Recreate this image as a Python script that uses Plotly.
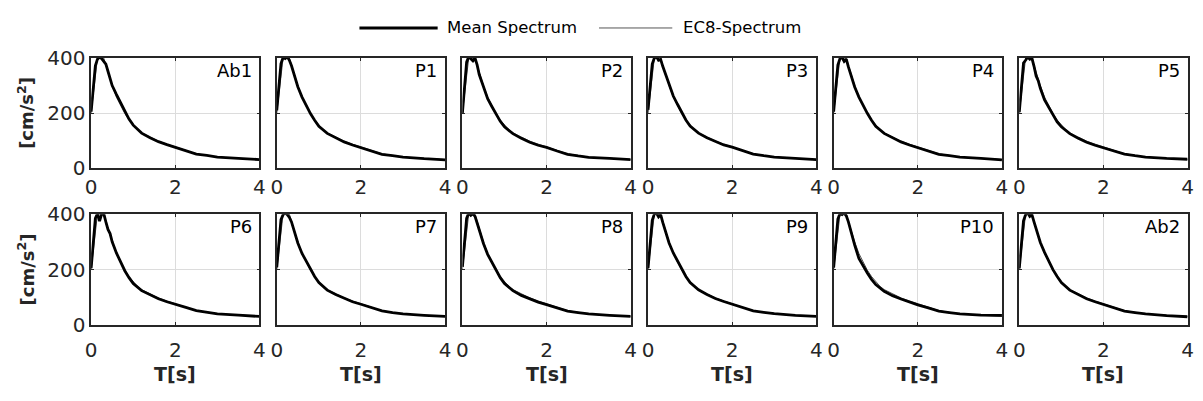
import plotly.graph_objects as go

W, H = 1203, 401

# ---------------- data ----------------
labels = ["Ab1", "P1", "P2", "P3", "P4", "P5",
          "P6", "P7", "P8", "P9", "P10", "Ab2"]

T_mean = [0.0, 0.05, 0.1, 0.15, 0.2, 0.25, 0.3, 0.35, 0.4, 0.45, 0.5, 0.6, 0.7,
          0.8, 0.9, 1.0, 1.2, 1.4, 1.6, 1.8, 2.0, 2.25, 2.5, 2.75, 3.0, 3.5, 4.0]

mean_Ab1 = [205, 300, 372, 396, 404, 398, 386, 378, 352, 328, 300, 268, 236, 205, 178, 156, 127, 110, 96, 85, 76, 64, 51, 46, 40, 35, 31]
mean_P1 = [210, 310, 380, 402, 398, 405, 392, 372, 345, 320, 296, 258, 228, 198, 174, 152, 126, 109, 95, 84, 75, 63, 50, 45, 40, 34, 30]
mean_P2 = [200, 305, 385, 405, 398, 390, 400, 375, 340, 318, 292, 252, 224, 196, 170, 150, 125, 108, 94, 83, 75, 62, 50, 44, 39, 35, 31]
mean_P3 = [212, 312, 378, 400, 405, 392, 395, 370, 348, 325, 298, 262, 232, 202, 175, 153, 127, 110, 96, 84, 76, 64, 51, 45, 40, 35, 31]
mean_P4 = [205, 300, 375, 398, 402, 388, 396, 368, 342, 320, 295, 258, 228, 199, 174, 152, 126, 109, 95, 84, 75, 63, 50, 45, 40, 35, 30]
mean_P5 = [203, 305, 382, 392, 404, 396, 400, 370, 335, 318, 290, 248, 222, 192, 168, 150, 125, 108, 94, 83, 74, 62, 51, 45, 40, 35, 32]
mean_P6 = [205, 310, 385, 402, 375, 400, 402, 372, 345, 330, 300, 260, 228, 196, 171, 150, 124, 108, 95, 84, 76, 64, 52, 46, 40, 36, 31]
mean_P7 = [208, 305, 380, 398, 404, 398, 388, 372, 345, 320, 296, 258, 230, 199, 175, 153, 126, 110, 96, 84, 75, 63, 51, 45, 40, 35, 31]
mean_P8 = [210, 310, 385, 404, 396, 402, 392, 368, 340, 318, 294, 255, 226, 196, 171, 150, 124, 107, 94, 83, 74, 62, 50, 45, 40, 35, 31]
mean_P9 = [205, 305, 378, 400, 404, 390, 398, 370, 345, 322, 296, 260, 230, 200, 175, 153, 127, 110, 96, 85, 76, 64, 51, 46, 41, 35, 31]
mean_P10 = [207, 308, 382, 402, 398, 404, 394, 372, 342, 318, 288, 240, 212, 188, 165, 146, 122, 106, 94, 83, 73, 62, 50, 45, 40, 36, 35]
mean_Ab2 = [204, 302, 376, 398, 405, 392, 398, 372, 346, 322, 298, 262, 230, 200, 175, 153, 126, 109, 95, 84, 75, 63, 50, 45, 40, 34, 30]

T_ec8 = [0.0, 0.1, 0.15, 0.3, 0.4, 0.5, 0.6, 0.7, 0.8, 0.9, 1.0, 1.1, 1.2, 1.4, 1.6, 1.8, 2.0, 2.5, 3.0, 3.5, 4.0]
ec8 = [200, 350, 400, 400, 345, 300, 258, 226, 198, 175, 156, 140, 128, 112, 98, 87, 77, 52, 40, 35, 31]

means = [mean_Ab1, mean_P1, mean_P2, mean_P3, mean_P4, mean_P5,
         mean_P6, mean_P7, mean_P8, mean_P9, mean_P10, mean_Ab2]

x_ticks = [0, 2, 4]
y_ticks = [0, 200, 400]

# ---------------- layout geometry (pixels) ----------------
col_left = [86 + 187.5 * c for c in range(6)]
pw = 170
row_top = [49, 215]
row_bot = [166, 333]

FONT = "DejaVu Sans, Liberation Sans, Arial, sans-serif"
TXT = "#262626"

fig = go.Figure()
layout = {}
annotations = []
for i, lab in enumerate(labels):
    r, c = divmod(i, 6)
    n = i + 1
    xa = "x" if n == 1 else f"x{n}"
    ya = "y" if n == 1 else f"y{n}"
    fig.add_trace(go.Scatter(x=T_ec8, y=ec8, xaxis=xa, yaxis=ya, mode="lines",
                             line=dict(color="#3a3a3a", width=0.9),
                             name="EC8-Spectrum", showlegend=False, hoverinfo="skip"))
    fig.add_trace(go.Scatter(x=T_mean, y=means[i], xaxis=xa, yaxis=ya, mode="lines",
                             line=dict(color="black", width=2.8),
                             name="Mean Spectrum", showlegend=False, hoverinfo="skip"))
    l = col_left[c]
    common = dict(showline=True, mirror="allticks", linecolor=TXT, linewidth=1.5,
                  ticks="inside", ticklen=3, tickcolor=TXT, tickwidth=1,
                  showgrid=True, gridcolor="#dcdcdc", gridwidth=1, zeroline=False,
                  tickfont=dict(family=FONT, size=20, color=TXT), fixedrange=True)
    layout["xaxis" if n == 1 else f"xaxis{n}"] = dict(
        domain=[l / W, (l + pw) / W], range=[0, 4], tickvals=x_ticks,
        anchor=ya, ticklabelstandoff=(6 if r == 1 else 0), **common)
    layout["yaxis" if n == 1 else f"yaxis{n}"] = dict(
        domain=[1 - row_bot[r] / H, 1 - row_top[r] / H], range=[0, 400],
        tickvals=y_ticks, showticklabels=(c == 0), anchor=xa, **common)
    # panel label
    annotations.append(dict(text=lab, xref="paper", yref="paper",
                            x=(l + pw - 6) / W, y=1 - (row_top[r] + 13) / H,
                            xanchor="right", yanchor="middle", showarrow=False,
                            font=dict(family=FONT, size=18, color="black")))
    if r == 1:
        annotations.append(dict(text="<b>T[s]</b>", xref="paper", yref="paper",
                                x=(l + pw / 2) / W, y=1 - 385 / H,
                                xanchor="center", yanchor="middle", showarrow=False,
                                font=dict(family=FONT, size=19, color=TXT)))

for r in range(2):
    annotations.append(dict(text="<b>[cm/s<sup>2</sup>]</b>", xref="paper", yref="paper",
                            x=20 / W, y=1 - (row_top[r] + row_bot[r]) / 2 / H,
                            xanchor="center", yanchor="middle", textangle=-90,
                            showarrow=False, font=dict(family=FONT, size=18, color=TXT)))

# manual legend
leg_y = 1 - 17 / H
shapes = [
    dict(type="line", xref="paper", yref="paper", x0=357 / W, x1=436 / W, y0=leg_y, y1=leg_y,
         line=dict(color="black", width=2.8)),
    dict(type="line", xref="paper", yref="paper", x0=599 / W, x1=673 / W, y0=leg_y, y1=leg_y,
         line=dict(color="#555555", width=1)),
]
annotations.append(dict(text="Mean Spectrum", xref="paper", yref="paper", x=443 / W, y=leg_y,
                        xanchor="left", yanchor="middle", showarrow=False,
                        font=dict(family=FONT, size=16.5, color="black")))
annotations.append(dict(text="EC8-Spectrum", xref="paper", yref="paper", x=682 / W, y=leg_y,
                        xanchor="left", yanchor="middle", showarrow=False,
                        font=dict(family=FONT, size=16.5, color="black")))

fig.update_layout(width=W, height=H, margin=dict(l=0, r=0, t=0, b=0),
                  paper_bgcolor="white", plot_bgcolor="white", showlegend=False,
                  annotations=annotations, shapes=shapes, **layout)

fig.write_html("out.html", config={"displayModeBar": False})
